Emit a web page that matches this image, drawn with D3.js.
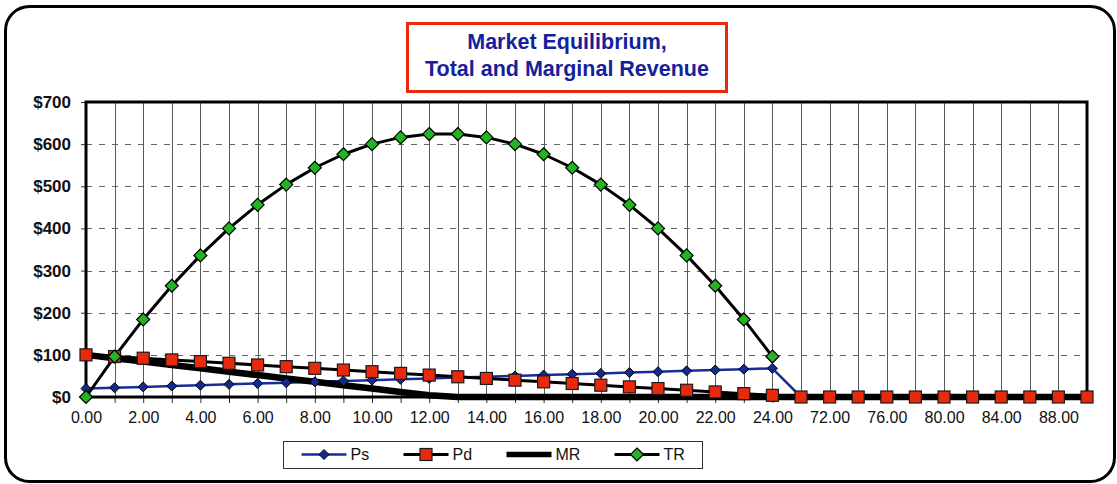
<!DOCTYPE html>
<html>
<head>
<meta charset="utf-8">
<script src="https://cdn.jsdelivr.net/npm/d3@7"></script>
<style>
  body { margin: 0; background: #fff; }
  svg { display: block; font-family: "Liberation Sans", Arial, Helvetica, sans-serif; }
</style>
</head>
<body>
<svg id="chart" width="1117" height="484"></svg>
<script>
// categories (quantity) - Excel style category axis
var qValues = [0,1,2,3,4,5,6,7,8,9,10,11,12,13,14,15,16,17,18,19,20,21,22,23,24,
	70,72,74,76,78,80,82,84,86,88,90];

// series
var psValues = [20,22,24,26,28,30,32,34,36,38,40,42,44,46,48,50,52,54,56,58,60,62,64,66,68,
	0,0,0,0,0,0,0,0,0,0,0];
var pdValues = [100,96,92,88,84,80,76,72,68,64,60,56,52,48,44,40,36,32,28,24,20,16,12,8,4,
	0,0,0,0,0,0,0,0,0,0,0];
var mrValues = [100,92,84,76,68,60,52,44,36,28,20,12,4,0,0,0,0,0,0,0,0,0,0,0,0,
	0,0,0,0,0,0,0,0,0,0,0];
var trValues = [0,96,184,264,336,400,456,504,544,576,600,616,624,624,616,600,576,544,504,456,400,336,264,184,96,
	null,null,null,null,null,null,null,null,null,null,null];

var yTicks = [0,100,200,300,400,500,600,700];
var titleLines = ["Market Equilibrium,", "Total and Marginal Revenue"];

var svg = d3.select("svg#chart"),
	margin = {top: 102, right: 30, bottom: 87, left: 86},
	width = 1087 - margin.left,
	height = 397 - margin.top;

// outer rounded frame
svg.append("rect")
	.attr("x", 5.5).attr("y", 6.5)
	.attr("width", 1109).attr("height", 475)
	.attr("rx", 24).attr("ry", 24)
	.attr("fill", "#fff")
	.attr("stroke", "#000")
	.attr("stroke-width", 3);

// title box
svg.append("rect")
	.attr("x", 407.5).attr("y", 23.5)
	.attr("width", 319).attr("height", 68)
	.attr("fill", "#fff")
	.attr("stroke", "#e8290b")
	.attr("stroke-width", 3);

svg.selectAll("text.title")
	.data(titleLines)
	.enter().append("text")
	.attr("class", "title")
	.attr("x", 567)
	.attr("y", function (d, i) { return 49 + i * 27; })
	.attr("text-anchor", "middle")
	.attr("font-size", "21.5px")
	.attr("font-weight", "bold")
	.attr("fill", "#15219c")
	.text(function (d) { return d; });

var g = svg.append("g").attr("transform", "translate(" + margin.left + "," + margin.top + ")");

// scales
var idx = d3.range(qValues.length);
var x = d3.scalePoint().domain(idx).range([0, width]);
var y = d3.scaleLinear().domain([0, 700]).range([height, 0]);

// horizontal dashed gridlines
g.selectAll("line.hgrid")
	.data(yTicks.filter(function (d) { return d > 0 && d < 700; }))
	.enter().append("line")
	.attr("class", "hgrid")
	.attr("x1", 0).attr("x2", width)
	.attr("y1", function (d) { return Math.round(y(d)) + 0.5; })
	.attr("y2", function (d) { return Math.round(y(d)) + 0.5; })
	.attr("stroke", "#666")
	.attr("stroke-width", 1)
	.attr("stroke-dasharray", "6,7");

// vertical gridlines, one per category
g.selectAll("line.vgrid")
	.data(idx.slice(1, idx.length - 1))
	.enter().append("line")
	.attr("class", "vgrid")
	.attr("x1", function (d) { return Math.round(x(d)) + 0.5; })
	.attr("x2", function (d) { return Math.round(x(d)) + 0.5; })
	.attr("y1", 0).attr("y2", height)
	.attr("stroke", "#5a5a5a")
	.attr("stroke-width", 1);

// X axis
var xAxis = g.append("g")
	.attr("transform", "translate(0," + height + ")")
	.call(d3.axisBottom(x)
		.tickSize(6)
		.tickFormat(function (d) { return d % 2 === 0 ? qValues[d].toFixed(2) : ""; }));
xAxis.select(".domain").remove();
xAxis.selectAll("line").attr("stroke", "#333");
xAxis.selectAll("text")
	.attr("font-size", "16px")
	.attr("font-family", "'Liberation Sans', Arial, sans-serif")
	.attr("fill", "#111")
	.attr("dy", "0.95em")
	.attr("y", 11);

// Y axis
var yAxis = g.append("g")
	.call(d3.axisLeft(y)
		.tickValues(yTicks)
		.tickSize(5)
		.tickPadding(10)
		.tickFormat(function (d) { return "$" + d; }));
yAxis.select(".domain").remove();
yAxis.selectAll("line").attr("stroke", "#333");
yAxis.selectAll("text")
	.attr("font-size", "17px")
	.attr("font-weight", "bold")
	.attr("font-family", "'Liberation Sans', Arial, sans-serif")
	.attr("fill", "#111");

// plot frame
g.append("rect")
	.attr("x", 0).attr("y", 0)
	.attr("width", width).attr("height", height)
	.attr("fill", "none")
	.attr("stroke", "#000")
	.attr("stroke-width", 3);

// lines
var makeLine = function (values) {
	return d3.line()
		.defined(function (d) { return values[d] !== null; })
		.x(function (d) { return x(d); })
		.y(function (d) { return y(values[d]); });
};

var series = [
	{name: "Ps", values: psValues, stroke: "#1a2c9a", width: 2.5, marker: "diamondSmall"},
	{name: "Pd", values: pdValues, stroke: "#000", width: 3, marker: "square"},
	{name: "MR", values: mrValues, stroke: "#000", width: 6.5, marker: null},
	{name: "TR", values: trValues, stroke: "#000", width: 3, marker: "diamond"}
];

series.forEach(function (s) {
	g.append("path")
		.datum(idx)
		.attr("fill", "none")
		.attr("stroke", s.stroke)
		.attr("stroke-width", s.width)
		.attr("stroke-linejoin", "round")
		.attr("d", makeLine(s.values));
});

// markers
var drawMarker = function (sel, type) {
	if (type === "square") {
		sel.append("rect")
			.attr("x", -6).attr("y", -6)
			.attr("width", 12).attr("height", 12)
			.attr("fill", "#e8290b")
			.attr("stroke", "#1a1a1a")
			.attr("stroke-width", 1.2);
	} else if (type === "diamond") {
		sel.append("path")
			.attr("d", "M0,-6.5L6.5,0L0,6.5L-6.5,0Z")
			.attr("fill", "#22b422")
			.attr("stroke", "#000")
			.attr("stroke-width", 1.2);
	} else if (type === "diamondSmall") {
		sel.append("path")
			.attr("d", "M0,-5L5,0L0,5L-5,0Z")
			.attr("fill", "#142a8c")
			.attr("stroke", "#000")
			.attr("stroke-width", 1);
	}
};

series.forEach(function (s) {
	if (!s.marker) return;
	var pts = g.selectAll("g.m-" + s.name)
		.data(idx.filter(function (d) { return s.values[d] !== null; }))
		.enter().append("g")
		.attr("class", "m-" + s.name)
		.attr("transform", function (d) { return "translate(" + x(d) + "," + y(s.values[d]) + ")"; });
	drawMarker(pts, s.marker);
});

// legend
var legendBox = svg.append("g").attr("transform", "translate(283.5,441.5)");
legendBox.append("rect")
	.attr("width", 419).attr("height", 27)
	.attr("fill", "#fff")
	.attr("stroke", "#333")
	.attr("stroke-width", 1);

var legendX = [18, 120, 223, 331];
var legend = legendBox.selectAll("g.legend")
	.data(series)
	.enter().append("g")
	.attr("class", "legend")
	.attr("transform", function (d, i) { return "translate(" + legendX[i] + ",13)"; });

legend.append("line")
	.attr("x1", 0).attr("x2", 45)
	.attr("stroke", function (d) { return d.stroke; })
	.attr("stroke-width", function (d) { return d.name === "MR" ? 5.5 : d.width; });

legend.each(function (d) {
	if (d.marker) {
		var m = d3.select(this).append("g").attr("transform", "translate(22.5,0)");
		drawMarker(m, d.marker);
	}
});

legend.append("text")
	.attr("x", 49)
	.attr("dy", "0.36em")
	.attr("font-size", "16px")
	.attr("fill", "#111")
	.text(function (d) { return d.name; });
</script>
</body>
</html>
